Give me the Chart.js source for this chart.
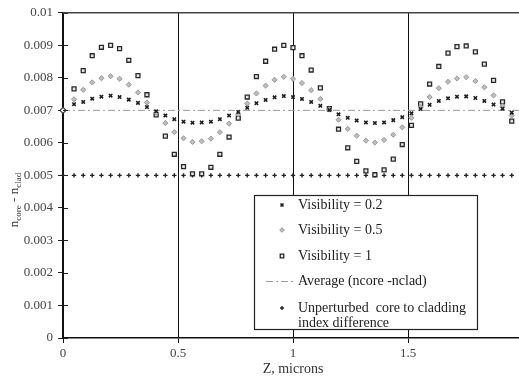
<!DOCTYPE html>
<html>
<head>
<meta charset="utf-8">
<script src="https://cdn.jsdelivr.net/npm/chart.js@4.4.1/dist/chart.umd.min.js"></script>
<style>
  html, body { margin: 0; padding: 0; background: #fff; overflow: hidden; }
  #wrap { width: 530px; height: 381px; }
</style>
</head>
<body>
<div id="wrap"><canvas id="chart" width="530" height="381"></canvas></div>
<script>
// Sample positions along the fibre (microns)
const zSamples = [0.048, 0.088, 0.127, 0.167, 0.207, 0.246, 0.286, 0.326, 0.365, 0.405,
                  0.445, 0.484, 0.524, 0.563, 0.603, 0.643, 0.682, 0.722, 0.762, 0.801,
                  0.841, 0.881, 0.920, 0.960, 1.000, 1.039, 1.079, 1.119, 1.158, 1.198,
                  1.238, 1.277, 1.317, 1.356, 1.396, 1.436, 1.475, 1.515, 1.555, 1.594,
                  1.634, 1.674, 1.713, 1.753, 1.793, 1.832, 1.872, 1.911, 1.951];
const zUnperturbed = [0, 0.048, 0.088, 0.127, 0.167, 0.207, 0.246, 0.286, 0.326, 0.365, 0.405,
                      0.445, 0.484, 0.524, 0.563, 0.603, 0.643, 0.682, 0.722, 0.762, 0.801,
                      0.841, 0.881, 0.920, 0.960, 1.000, 1.039, 1.079, 1.119, 1.158, 1.198,
                      1.238, 1.277, 1.317, 1.356, 1.396, 1.436, 1.475, 1.515, 1.555, 1.594,
                      1.634, 1.674, 1.713, 1.753, 1.793, 1.832, 1.872, 1.911, 1.951];

// n_core - n_clad for each visibility
const vis02 = [0.00719, 0.00726, 0.00736, 0.00742, 0.00745, 0.00741, 0.00733, 0.00723, 0.00710, 0.00697,
               0.00684, 0.00673, 0.00665, 0.00662, 0.00663, 0.00665, 0.00673, 0.00684, 0.00695, 0.00708,
               0.00722, 0.00732, 0.00740, 0.00744, 0.00741, 0.00735, 0.00726, 0.00714, 0.00701, 0.00688,
               0.00677, 0.00669, 0.00663, 0.00661, 0.00663, 0.00670, 0.00679, 0.00691, 0.00704, 0.00717,
               0.00729, 0.00737, 0.00742, 0.00743, 0.00738, 0.00729, 0.00718, 0.00705, 0.00693];
const vis05 = [0.00734, 0.00763, 0.00786, 0.00799, 0.00805, 0.00797, 0.00779, 0.00755, 0.00724, 0.00693,
               0.00661, 0.00633, 0.00614, 0.00603, 0.00605, 0.00613, 0.00633, 0.00659, 0.00688, 0.00721,
               0.00752, 0.00776, 0.00794, 0.00803, 0.00797, 0.00784, 0.00762, 0.00735, 0.00703, 0.00671,
               0.00643, 0.00622, 0.00607, 0.00601, 0.00609, 0.00625, 0.00648, 0.00677, 0.00710, 0.00741,
               0.00768, 0.00788, 0.00798, 0.00802, 0.00790, 0.00771, 0.00746, 0.00713, 0.00684];
const vis1 = [0.00766, 0.00822, 0.00868, 0.00894, 0.00900, 0.00890, 0.00854, 0.00807, 0.00748, 0.00686,
              0.00621, 0.00565, 0.00527, 0.00505, 0.00505, 0.00525, 0.00565, 0.00618, 0.00676, 0.00741,
              0.00804, 0.00851, 0.00888, 0.00900, 0.00893, 0.00868, 0.00824, 0.00769, 0.00705, 0.00642,
              0.00585, 0.00543, 0.00514, 0.00502, 0.00517, 0.00550, 0.00595, 0.00654, 0.00720, 0.00781,
              0.00835, 0.00876, 0.00896, 0.00898, 0.00880, 0.00842, 0.00792, 0.00726, 0.00667];
const averageZ = [0, 2];
const averageDelta = [0.007, 0.007];
const unperturbedDelta = 0.005;

const legendLabels = ['Visibility = 0.2', 'Visibility = 0.5', 'Visibility = 1',
                      'Average (ncore -nclad)', ['Unperturbed  core to cladding', 'index difference']];

const SERIF = "'Liberation Serif', 'Times New Roman', serif";

function pts(xs, ys) {
    return xs.map((x, i) => ({ x: x, y: ys[i] }));
}

// Tick crosses on the left axis, top frame line
const framePlugin = {
    id: 'frame',
    afterDatasetsDraw(chart) {
        const ctx = chart.ctx;
        const a = chart.chartArea;
        const y = chart.scales.y;
        ctx.save();
        ctx.strokeStyle = '#222';
        ctx.lineWidth = 1;
        y.ticks.forEach(t => {
            const py = Math.round(y.getPixelForValue(t.value)) + 0.5;
            ctx.beginPath();
            ctx.moveTo(a.left, py);
            ctx.lineTo(a.left + 5, py);
            ctx.stroke();
        });
        ctx.strokeStyle = '#444';
        ctx.lineWidth = 1.5;
        ctx.beginPath();
        ctx.moveTo(a.left, a.top);
        ctx.lineTo(a.right, a.top);
        ctx.stroke();
        ctx.restore();
    }
};

// Boxed legend inside the plot
const boxLegendPlugin = {
    id: 'boxLegend',
    afterDatasetsDraw(chart) {
        const ctx = chart.ctx;
        const box = { left: 254, top: 195, right: 477, bottom: 329 };
        ctx.save();
        ctx.fillStyle = '#fff';
        ctx.fillRect(box.left, box.top, box.right - box.left, box.bottom - box.top);
        ctx.strokeStyle = '#222';
        ctx.lineWidth = 1.2;
        ctx.strokeRect(box.left + 0.5, box.top + 0.5, box.right - box.left, box.bottom - box.top);

        const rows = [205, 230, 256, 281, 308];
        const markX = 282, textX = 298;
        ctx.font = '14px ' + SERIF;
        ctx.textBaseline = 'middle';
        chart.data.datasets.forEach((ds, i) => {
            const ry = rows[i];
            ctx.strokeStyle = ds.borderColor;
            ctx.fillStyle = ds.backgroundColor;
            if (ds.showLine) {
                ctx.lineWidth = ds.borderWidth;
                ctx.setLineDash(ds.borderDash);
                ctx.beginPath();
                ctx.moveTo(266, ry + 0.5);
                ctx.lineTo(296, ry + 0.5);
                ctx.stroke();
                ctx.setLineDash([]);
            } else {
                ctx.lineWidth = ds.pointBorderWidth;
                Chart.helpers.drawPoint(ctx, {
                    pointStyle: ds.pointStyle, radius: ds.pointRadius * 0.9, rotation: 0,
                    borderWidth: ds.pointBorderWidth
                }, markX, ry);
            }
            ctx.fillStyle = '#222';
            const label = legendLabels[i];
            if (Array.isArray(label)) {
                ctx.fillText(label[0], textX, ry);
                ctx.fillText(label[1], textX, ry + 15);
            } else {
                ctx.fillText(label, textX, ry);
            }
        });
        ctx.restore();
    }
};

// Rotated y title with subscripts
const yTitlePlugin = {
    id: 'yTitle',
    afterDraw(chart) {
        const ctx = chart.ctx;
        const parts = [['n', false], ['core', true], [' - n', false], ['clad', true]];
        ctx.save();
        ctx.translate(18, 200);
        ctx.rotate(-Math.PI / 2);
        ctx.fillStyle = '#333';
        ctx.textBaseline = 'alphabetic';
        let total = 0;
        parts.forEach(p => {
            ctx.font = (p[1] ? '9px ' : '13px ') + SERIF;
            total += ctx.measureText(p[0]).width;
        });
        let x = -total / 2;
        parts.forEach(p => {
            ctx.font = (p[1] ? '9px ' : '13px ') + SERIF;
            ctx.fillText(p[0], x, p[1] ? 3 : 0);
            x += ctx.measureText(p[0]).width;
        });
        ctx.restore();
    }
};

const ctx = document.getElementById('chart').getContext('2d');
new Chart(ctx, {
    type: 'scatter',
    data: {
        datasets: [
            {
                label: legendLabels[0],
                data: pts(zSamples, vis02),
                pointStyle: 'crossRot', pointRadius: 2.4, pointBorderWidth: 1.6,
                borderColor: '#1e1e1e', backgroundColor: '#1e1e1e', showLine: false
            },
            {
                label: legendLabels[1],
                data: pts(zSamples, vis05),
                pointStyle: 'rectRot', pointRadius: 2.6, pointBorderWidth: 1,
                borderColor: '#9a9a9a', backgroundColor: '#bdbdbd', showLine: false
            },
            {
                label: legendLabels[2],
                data: pts(zSamples, vis1),
                pointStyle: 'rect', pointRadius: 2.8, pointBorderWidth: 1.3,
                borderColor: '#2a2a2a', backgroundColor: '#e6e6e6', showLine: false
            },
            {
                label: legendLabels[3],
                data: pts(averageZ, averageDelta),
                showLine: true, borderColor: '#9a9a9a', backgroundColor: '#fff',
                borderWidth: 1, borderDash: [7, 3, 2, 3],
                pointStyle: 'rectRot', pointRadius: [3, 0], pointBorderWidth: 1.2,
                pointBorderColor: '#333', pointBackgroundColor: '#fff'
            },
            {
                label: 'Unperturbed core to cladding index difference',
                data: zUnperturbed.map(z => ({ x: z, y: unperturbedDelta })),
                pointStyle: 'cross', pointRadius: 2.2, pointBorderWidth: 1.4,
                borderColor: '#222', backgroundColor: '#222', showLine: false
            }
        ]
    },
    options: {
        responsive: false,
        animation: false,
        devicePixelRatio: 1,
        layout: { padding: { top: 10, right: 7, left: 0, bottom: 0 } },
        plugins: { legend: { display: false }, tooltip: { enabled: false } },
        clip: false,
        scales: {
            x: {
                type: 'linear', min: 0, max: 2,
                afterFit: s => { s.height = 43; },
                border: { color: '#111', width: 1.5 },
                grid: { color: '#111', lineWidth: 1, tickLength: 5, drawTicks: true },
                ticks: {
                    stepSize: 0.5, padding: 3, color: '#444',
                    font: { family: SERIF, size: 13 },
                    callback: v => String(+v.toFixed(1))
                },
                title: {
                    display: true, text: 'Z, microns', color: '#333',
                    font: { family: SERIF, size: 14 },
                    padding: { top: 0, bottom: 3 }
                }
            },
            y: {
                min: 0, max: 0.01,
                afterFit: s => { s.width = 63; },
                border: { color: '#111', width: 1.5 },
                grid: { drawOnChartArea: false, drawTicks: true, tickLength: 5, color: '#222' },
                ticks: {
                    stepSize: 0.001, padding: 5, color: '#444',
                    font: { family: SERIF, size: 13 },
                    callback: v => String(+v.toFixed(3))
                }
            }
        }
    },
    plugins: [framePlugin, boxLegendPlugin, yTitlePlugin]
});
</script>
</body>
</html>
